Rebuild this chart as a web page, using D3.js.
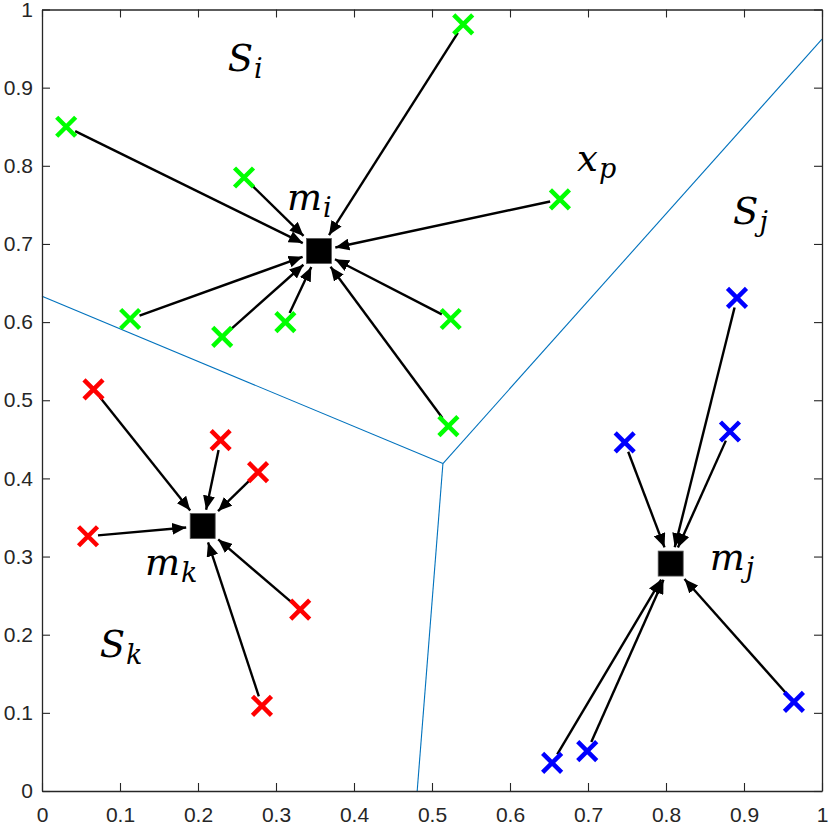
<!DOCTYPE html>
<html>
<head>
<meta charset="utf-8">
<script src="https://cdn.jsdelivr.net/npm/d3@7"></script>
<style>
  body { margin: 0; background: #fff; }
  .math { font-family: "DejaVu Serif", "Liberation Serif", serif; font-style: italic; fill: #000; }
</style>
</head>
<body>
<svg id="chart" width="830" height="826"></svg>
<script>
// tick values and labels
var tickVals = [0, 0.1, 0.2, 0.3, 0.4, 0.5, 0.6, 0.7, 0.8, 0.9, 1];
var tickLabels = ["0", "0.1", "0.2", "0.3", "0.4", "0.5", "0.6", "0.7", "0.8", "0.9", "1"];

// cluster points
var greenX = [0.031, 0.540, 0.259, 0.664, 0.113, 0.231, 0.312, 0.524, 0.521];
var greenY = [0.850, 0.981, 0.785, 0.757, 0.604, 0.581, 0.600, 0.604, 0.467];
var redX = [0.066, 0.229, 0.277, 0.059, 0.331, 0.282];
var redY = [0.514, 0.449, 0.408, 0.326, 0.232, 0.109];
var blueX = [0.891, 0.747, 0.882, 0.654, 0.699, 0.964];
var blueY = [0.631, 0.446, 0.460, 0.036, 0.051, 0.114];

// centroids m_i, m_k, m_j
var centX = [0.355, 0.206, 0.806];
var centY = [0.691, 0.339, 0.291];

// voronoi edges: junction and three border ends
var edgeX = [0.514, 0.0, 0.514, 1.0, 0.514, 0.481];
var edgeY = [0.419, 0.633, 0.419, 0.962, 0.419, 0.0];

// labels
var labelMain = ["S", "m", "x", "S", "m", "m", "S"];
var labelSub = ["i", "i", "p", "j", "j", "k", "k"];
var labelX = [0.238, 0.314, 0.686, 0.886, 0.856, 0.132, 0.074];
var labelY = [0.921, 0.744, 0.793, 0.725, 0.283, 0.277, 0.172];

var svg = d3.select("#chart");

var x = d3.scaleLinear().domain([0, 1]).range([42, 822]);
var y = d3.scaleLinear().domain([0, 1]).range([791, 9.5]);

// arrowhead
svg.append("defs").append("marker")
  .attr("id", "head")
  .attr("markerUnits", "userSpaceOnUse")
  .attr("viewBox", "0 0 14 12")
  .attr("refX", 14)
  .attr("refY", 6)
  .attr("markerWidth", 14)
  .attr("markerHeight", 12)
  .attr("orient", "auto")
  .append("path")
  .attr("d", "M0,0 L14,6 L0,12 Z")
  .attr("fill", "#000");

// voronoi lines
var plot = svg.append("g");
for (var e = 0; e < edgeX.length; e += 2) {
  plot.append("line")
    .attr("x1", x(edgeX[e])).attr("y1", y(edgeY[e]))
    .attr("x2", x(edgeX[e + 1])).attr("y2", y(edgeY[e + 1]))
    .attr("stroke", "#0072BD")
    .attr("stroke-width", 1.1);
}

// build cluster table
var clusters = [
  { xs: greenX, ys: greenY, color: "#00ff00", c: 0 },
  { xs: redX, ys: redY, color: "#ff0000", c: 1 },
  { xs: blueX, ys: blueY, color: "#0000ff", c: 2 }
];

var half = 12.5;
clusters.forEach(function (cl) {
  var cx = x(centX[cl.c]), cy = y(centY[cl.c]);
  var pts = cl.xs.map(function (v, i) { return { px: x(v), py: y(cl.ys[i]) }; });

  // arrows from point to centroid
  plot.selectAll(null)
    .data(pts)
    .enter()
    .append("line")
    .each(function (d) {
      var dx = cx - d.px, dy = cy - d.py;
      var len = Math.sqrt(dx * dx + dy * dy);
      var ux = dx / len, uy = dy / len;
      var tBox = half / Math.max(Math.abs(ux), Math.abs(uy)) + 4;
      d3.select(this)
        .attr("x1", d.px + ux * 10).attr("y1", d.py + uy * 10)
        .attr("x2", cx - ux * tBox).attr("y2", cy - uy * tBox);
    })
    .attr("stroke", "#000")
    .attr("stroke-width", 2.4)
    .attr("marker-end", "url(#head)");

  // x markers
  plot.selectAll(null)
    .data(pts)
    .enter()
    .append("path")
    .attr("d", function (d) {
      var s = 9.5;
      return "M" + (d.px - s) + "," + (d.py - s) + "L" + (d.px + s) + "," + (d.py + s) +
        "M" + (d.px - s) + "," + (d.py + s) + "L" + (d.px + s) + "," + (d.py - s);
    })
    .attr("stroke", cl.color)
    .attr("stroke-width", 4.5)
    .attr("fill", "none");

  // centroid square
  plot.append("rect")
    .attr("x", cx - half).attr("y", cy - half)
    .attr("width", half * 2).attr("height", half * 2)
    .attr("fill", "#000")
    .attr("stroke", "#555")
    .attr("stroke-width", 0.8);
});

// math labels
labelMain.forEach(function (m, i) {
  var t = svg.append("text")
    .attr("class", "math")
    .attr("x", x(labelX[i]))
    .attr("y", y(labelY[i]))
    .style("font-size", "37px")
    .text(m);
  t.append("tspan")
    .attr("dy", 7)
    .attr("dx", 1)
    .style("font-size", "27px")
    .text(labelSub[i]);
});

// axes, ticks pointing inward, box on all sides
var fmt = function (d) { return tickLabels[tickVals.indexOf(d)]; };
var axes = svg.append("g");
axes.append("g")
  .attr("transform", "translate(0,791)")
  .call(d3.axisBottom(x).tickValues(tickVals).tickFormat(fmt).tickSizeInner(-8).tickSizeOuter(0).tickPadding(16));
axes.append("g")
  .attr("transform", "translate(42,0)")
  .call(d3.axisLeft(y).tickValues(tickVals).tickFormat(fmt).tickSizeInner(-8).tickSizeOuter(0).tickPadding(9));
axes.append("g")
  .attr("transform", "translate(0,9.5)")
  .call(d3.axisTop(x).tickValues(tickVals).tickFormat("").tickSizeInner(-8).tickSizeOuter(0));
axes.append("g")
  .attr("transform", "translate(822,0)")
  .call(d3.axisRight(y).tickValues(tickVals).tickFormat("").tickSizeInner(-8).tickSizeOuter(0));

axes.selectAll("g").attr("font-size", 21).attr("font-family", "Liberation Sans, Arial, sans-serif");
axes.selectAll(".tick text").attr("fill", "#262626");
axes.selectAll(".domain").attr("stroke", "#262626").attr("stroke-width", 1.3);
axes.selectAll(".tick line").attr("stroke", "#262626").attr("stroke-width", 1.1);
</script>
</body>
</html>
